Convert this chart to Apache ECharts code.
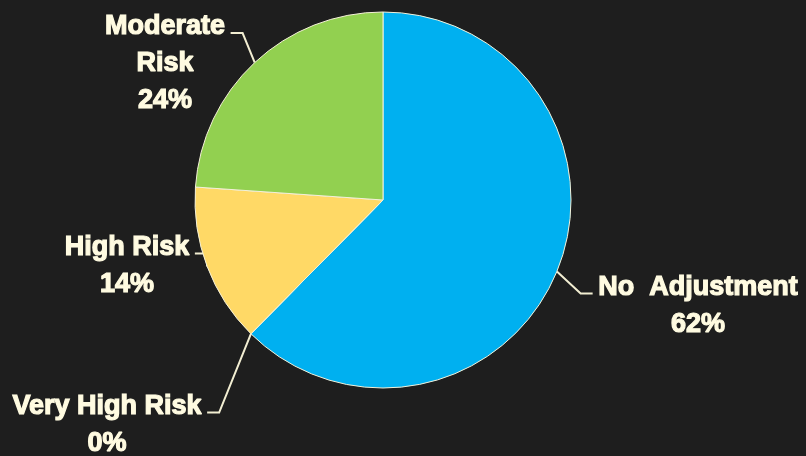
<!DOCTYPE html>
<html>
<head>
<meta charset="utf-8">
<script src="https://cdn.jsdelivr.net/npm/echarts@6/dist/echarts.min.js"></script>
<style>
html,body{margin:0;padding:0;background:#1e1e1e;}
#chart{width:806px;height:456px;}
</style>
</head>
<body>
<div id="chart"></div>
<script>
// Data
var categories = ['No  Adjustment', 'Very High Risk', 'High Risk', 'Moderate Risk'];
var values = [62.4, 0, 13.7, 23.9];
var colors = ['#00B0F0', '#4472C4', '#FFD966', '#92D050'];

// Label placement (layout only): block centres in px
var labelCenters = [[698, 306], [107, 425], [127, 266], [165, 64]];

var pieCenter = [383, 200];
var pieRadius = 188;

var chart = echarts.init(document.getElementById('chart'), null, {renderer: 'canvas'});

var data = categories.map(function (c, i) {
  return {name: c, value: values[i], itemStyle: {color: colors[i]}};
});

var LH = 37;
chart.setOption({
  backgroundColor: '#1e1e1e',
  animation: false,
  series: [{
    type: 'pie',
    center: pieCenter,
    radius: pieRadius,
    startAngle: 90,
    clockwise: true,
    avoidLabelOverlap: false,
    percentPrecision: 0,
    minShowLabelAngle: 0,
    data: data,
    itemStyle: {borderColor: '#f4f0d8', borderWidth: 1},
    label: {
      show: true,
      position: 'outside',
      color: '#FFFBE1',
      fontFamily: 'Liberation Sans',
      fontWeight: 'bold',
      fontSize: 27,
      lineHeight: LH,
      textBorderColor: '#FFFBE1',
      textBorderWidth: 1.2,
      formatter: function (p) {
        var n = p.name === 'Moderate Risk' ? 'Moderate\nRisk' : p.name;
        return n + '\n' + p.percent + '%';
      }
    },
    labelLine: {
      show: true,
      length: 10,
      length2: 10,
      lineStyle: {color: '#F2EED2', width: 2}
    },
    labelLayout: function (params) {
      var i = params.dataIndex;
      var c = labelCenters[i];
      var w = params.labelRect.width;
      var h = params.labelRect.height;
      var anchor = params.labelLinePoints ? params.labelLinePoints[0] : [pieCenter[0], pieCenter[1]];
      var lineY = c[1] - h / 2 + LH / 2 + 6;
      var right = c[0] > anchor[0];
      var endX = right ? c[0] - w / 2 - 5 : c[0] + w / 2 + 5;
      var elbowX = right ? endX - 12 : endX + 12;
      return {
        x: c[0],
        y: c[1],
        align: 'center',
        verticalAlign: 'middle',
        labelLinePoints: [anchor, [elbowX, lineY], [endX, lineY]]
      };
    }
  }]
});
</script>
</body>
</html>
